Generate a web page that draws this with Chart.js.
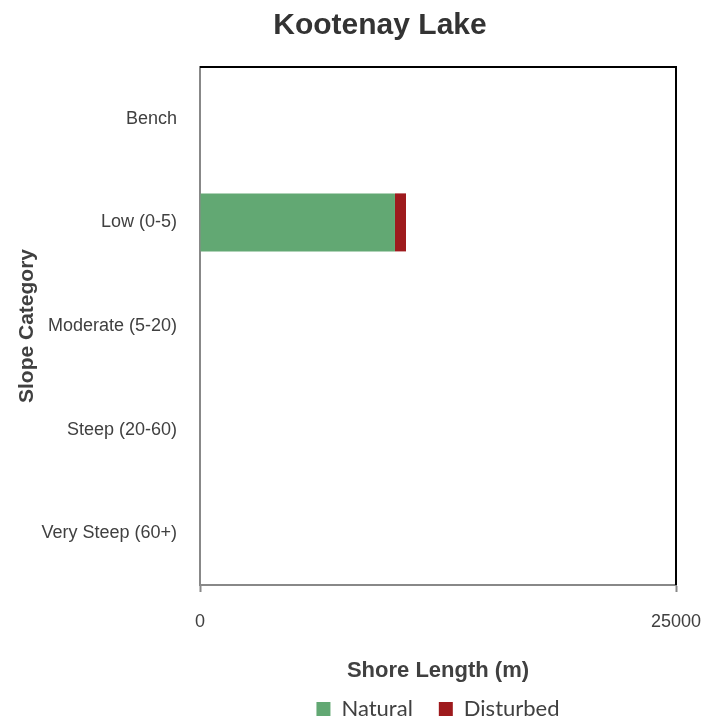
<!DOCTYPE html>
<html>
<head>
<meta charset="utf-8">
<script src="https://cdn.jsdelivr.net/npm/chart.js@4/dist/chart.umd.min.js"></script>
<style>
  html, body { margin: 0; padding: 0; background: #fff; }
  #wrap { width: 703px; height: 719px; }
</style>
</head>
<body>
<div id="wrap"><canvas id="chart" width="703" height="719"></canvas></div>
<script>
"use strict";

const categories = ["Bench", "Low (0-5)", "Moderate (5-20)", "Steep (20-60)", "Very Steep (60+)"];
const naturalValues = [0, 10240, 0, 0, 0];
const disturbedValues = [0, 580, 0, 0, 0];
const xTickValues = [0, 25000];
const chartTitle = "Kootenay Lake";

const sansFont = "'Liberation Sans', Arial, sans-serif";
const textColor = "#404040";

// chart title, centred over the plot like the original
const titlePlugin = {
  id: "chartTitle",
  afterDraw(chart) {
    const { ctx } = chart;
    ctx.save();
    ctx.font = "bold 30px " + sansFont;
    ctx.fillStyle = "#333";
    ctx.textAlign = "center";
    ctx.textBaseline = "middle";
    ctx.fillText(chartTitle, 380, 26);
    ctx.restore();
  }
};

// black frame on the top and right of the plot area
const framePlugin = {
  id: "frame",
  afterDatasetsDraw(chart) {
    const { ctx, chartArea } = chart;
    ctx.save();
    ctx.strokeStyle = "#000";
    ctx.lineWidth = 2;
    ctx.beginPath();
    ctx.moveTo(chartArea.left, chartArea.top);
    ctx.lineTo(chartArea.right, chartArea.top);
    ctx.lineTo(chartArea.right, chartArea.bottom);
    ctx.stroke();
    ctx.restore();
  }
};

const ctx = document.getElementById("chart").getContext("2d");
const chart = new Chart(ctx, {
  type: "bar",
  data: {
    labels: categories,
    datasets: [
      {
        label: "Natural",
        data: naturalValues,
        backgroundColor: "#62A873",
        barPercentage: 0.56,
        categoryPercentage: 1
      },
      {
        label: "Disturbed",
        data: disturbedValues,
        backgroundColor: "#9E1A1D",
        barPercentage: 0.56,
        categoryPercentage: 1
      }
    ]
  },
  options: {
    indexAxis: "y",
    responsive: false,
    animation: false,
    layout: { padding: { left: 0, right: 27, top: 67, bottom: 0 } },
    scales: {
      x: {
        stacked: true,
        min: 0,
        max: 25000,
        afterBuildTicks: scale => {
          scale.ticks = xTickValues.map(v => ({ value: v }));
        },
        afterFit: scale => {
          scale.paddingLeft = 0;
          scale.paddingRight = 0;
          scale.height = 87;
        },
        grid: {
          drawOnChartArea: false,
          color: "#888",
          tickLength: 7,
          tickWidth: 2
        },
        border: { color: "#888", width: 2 },
        ticks: {
          font: { family: sansFont, size: 18 },
          color: textColor,
          padding: 19,
          callback: value => String(value)
        },
        title: {
          display: true,
          text: "Shore Length (m)",
          font: { family: sansFont, size: 22, weight: "bold" },
          color: textColor,
          padding: { top: 22, bottom: -12 }
        }
      },
      y: {
        stacked: true,
        afterFit: scale => {
          scale.width = 200;
          scale.paddingTop = 0;
          scale.paddingBottom = 0;
        },
        grid: { display: false },
        border: { color: "#888", width: 2 },
        ticks: {
          font: { family: sansFont, size: 18 },
          color: textColor,
          padding: 15
        },
        title: {
          display: true,
          text: "Slope Category",
          font: { family: sansFont, size: 21, weight: "bold" },
          color: textColor,
          padding: { top: 15, bottom: 0 }
        }
      }
    },
    plugins: {
      title: { display: false },
      legend: {
        position: "bottom",
        fullSize: false,
        maxHeight: 47,
        labels: {
          font: { family: "Lato, 'Open Sans', sans-serif", size: 22 },
          color: textColor,
          boxWidth: 14,
          boxHeight: 14,
          padding: 26
        }
      },
      tooltip: { enabled: false }
    }
  },
  plugins: [framePlugin, titlePlugin]
});
</script>
</body>
</html>
